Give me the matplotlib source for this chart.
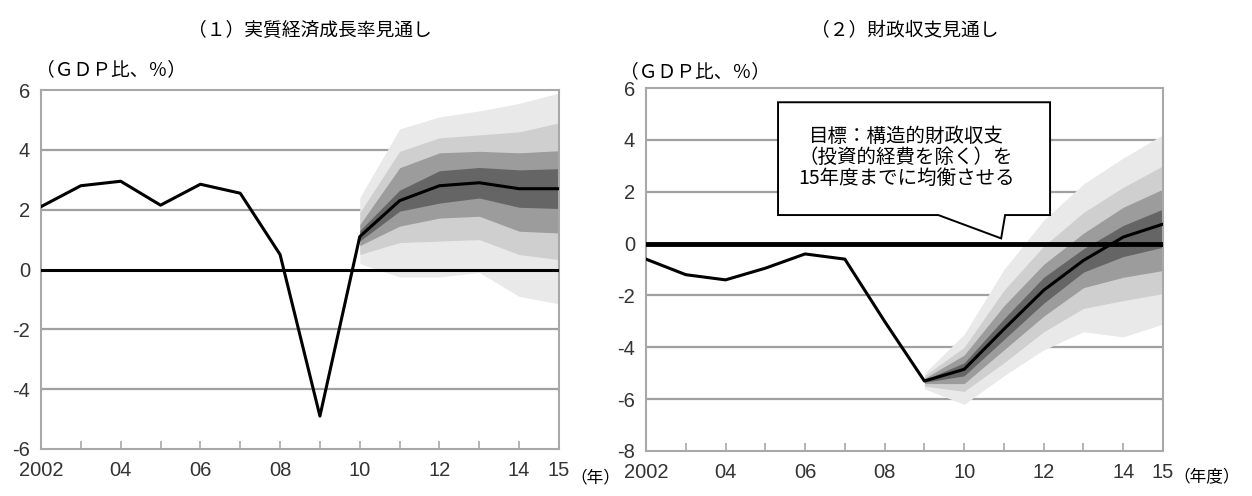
import matplotlib
matplotlib.use("Agg")
import matplotlib.pyplot as plt
from matplotlib.patches import Polygon
import numpy as np

plt.rcParams['font.family'] = ['Noto Sans CJK JP', 'DejaVu Sans']
plt.rcParams['axes.unicode_minus'] = False

# ---------------- data ----------------
years = list(range(2002, 2016))
xtick_labels = ["2002", "", "04", "", "06", "", "08", "", "10", "", "12", "", "14", "15"]

# (1) real GDP growth
gdp = [2.1, 2.8, 2.95, 2.15, 2.85, 2.55, 0.5, -4.9, 1.1, 2.3, 2.8, 2.9, 2.7, 2.7]
gdp_fan_years = [2010, 2011, 2012, 2013, 2014, 2015]
gdp_lightest_lo = [0.2, -0.25, -0.25, -0.1, -0.9, -1.15]
gdp_lightest_hi = [2.4, 4.7, 5.1, 5.3, 5.55, 5.9]
gdp_light_lo = [0.5, 0.9, 0.95, 1.0, 0.5, 0.33]
gdp_light_hi = [1.9, 3.95, 4.4, 4.5, 4.6, 4.9]
gdp_mid_lo = [0.8, 1.45, 1.72, 1.78, 1.28, 1.22]
gdp_mid_hi = [1.5, 3.4, 3.9, 3.95, 3.9, 3.97]
gdp_dark_lo = [0.95, 1.95, 2.22, 2.39, 2.08, 2.04]
gdp_dark_hi = [1.3, 2.65, 3.3, 3.41, 3.33, 3.37]

# (2) fiscal balance
fis = [-0.6, -1.2, -1.4, -0.95, -0.4, -0.6, -3.0, -5.3, -4.85, -3.3, -1.8, -0.65, 0.25, 0.75]
fis_fan_years = [2009, 2010, 2011, 2012, 2013, 2014, 2015]
fis_lightest_lo = [-5.6, -6.2, -5.1, -4.1, -3.4, -3.6, -3.1]
fis_lightest_hi = [-5.0, -3.5, -1.0, 0.9, 2.3, 3.3, 4.2]
fis_light_lo = [-5.5, -5.7, -4.6, -3.4, -2.5, -2.2, -1.93]
fis_light_hi = [-5.1, -4.0, -1.8, -0.1, 1.2, 2.17, 3.0]
fis_mid_lo = [-5.4, -5.4, -4.1, -2.8, -1.7, -1.3, -1.04]
fis_mid_hi = [-5.2, -4.3, -2.4, -0.8, 0.4, 1.4, 2.1]
fis_dark_lo = [-5.35, -5.1, -3.7, -2.3, -1.1, -0.5, -0.14]
fis_dark_hi = [-5.25, -4.6, -2.9, -1.3, -0.2, 0.7, 1.33]

band_colors = ['#e9e9e9', '#cfcfcf', '#9c9c9c', '#656565']

W, H = 1252, 496
fig = plt.figure(figsize=(W / 100, H / 100), dpi=100)

def px_axes(l, r, t, b):
    return fig.add_axes([l / W, 1 - b / H, (r - l) / W, (b - t) / H])

ax1 = px_axes(41, 559, 90, 449)
ax2 = px_axes(646, 1163, 88, 451)

num_font = ['Liberation Sans', 'DejaVu Sans']

def style(ax, ylo, yhi, zero_lw):
    ax.set_xlim(2002, 2015)
    ax.set_ylim(ylo, yhi)
    ax.set_yticks(np.arange(ylo, yhi + 1, 2))
    ax.set_xticks(years)
    ax.set_xticklabels(xtick_labels)
    for s in ax.spines.values():
        s.set_color('#a8a8a8')
        s.set_linewidth(1.5)
    ax.tick_params(axis='x', direction='in', length=6, width=1.2, color='#a8a8a8',
                   labelsize=14.5, labelcolor='#333333', pad=9)
    ax.tick_params(axis='y', length=0, labelsize=14.5, labelcolor='#333333', pad=8)
    for lab in ax.get_xticklabels() + ax.get_yticklabels():
        lab.set_family(num_font)
    for v in np.arange(ylo + 2, yhi, 2):
        if v != 0:
            ax.axhline(v, color='#a0a0a0', lw=1.6, zorder=1)
    ax.axhline(0, color='black', lw=zero_lw, zorder=5)

style(ax1, -6, 6, 2.2)
style(ax2, -8, 6, 3.5)

def fan(ax, fy, bands):
    for (lo, hi), c in zip(bands, band_colors):
        ax.fill_between(fy, lo, hi, color=c, lw=0, zorder=2)

fan(ax1, gdp_fan_years, [(gdp_lightest_lo, gdp_lightest_hi), (gdp_light_lo, gdp_light_hi),
                         (gdp_mid_lo, gdp_mid_hi), (gdp_dark_lo, gdp_dark_hi)])
fan(ax2, fis_fan_years, [(fis_lightest_lo, fis_lightest_hi), (fis_light_lo, fis_light_hi),
                         (fis_mid_lo, fis_mid_hi), (fis_dark_lo, fis_dark_hi)])

ax1.plot(years, gdp, color='black', lw=2.2, zorder=6, solid_joinstyle='round')
ax2.plot(years, fis, color='black', lw=2.2, zorder=6, solid_joinstyle='round')

# titles and labels
fig.text(310 / W, 1 - 30 / H, '（１）実質経済成長率見通し', ha='center', va='center', fontsize=13.5)
fig.text(905 / W, 1 - 30 / H, '（２）財政収支見通し', ha='center', va='center', fontsize=13.5)
fig.text(36 / W, 1 - 70 / H, '（ＧＤＰ比、％）', ha='left', va='center', fontsize=13.5)
fig.text(620 / W, 1 - 72 / H, '（ＧＤＰ比、％）', ha='left', va='center', fontsize=13.5)
fig.text(570 / W, 1 - 478 / H, '（年）', ha='left', va='center', fontsize=12)
fig.text(1173 / W, 1 - 478 / H, '（年度）', ha='left', va='center', fontsize=12)

# callout box with tail
bx0, bx1, by0, by1 = 2005.32, 2012.16, 1.1, 5.45
tail = [(2009.35, by0), (2010.93, 0.2), (2011.03, by0)]
poly = Polygon([(bx0, by0), (bx0, by1), (bx1, by1), (bx1, by0), tail[2], tail[1], tail[0]],
               closed=True, facecolor='white', edgecolor='black', lw=1.4, zorder=7)
ax2.add_patch(poly)
ax2.text((bx0 + bx1) / 2 - 0.2, (by0 + by1) / 2 + 0.05,
         '目標：構造的財政収支\n（投資的経費を除く）を\n15年度までに均衡させる',
         ha='center', va='center', fontsize=14, linespacing=1.0, zorder=8)

fig.savefig('out.png', dpi=100)
